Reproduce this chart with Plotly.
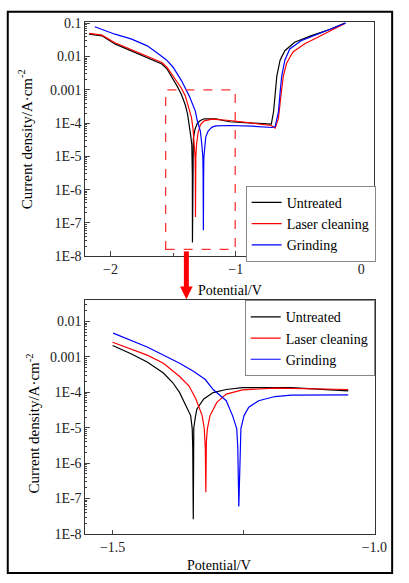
import plotly.graph_objects as go

# ---------------- data ----------------
untreated_x = [-2.17, -2.12, -2.068, -1.965, -1.836, -1.706, -1.59, -1.55, -1.5, -1.465, -1.434, -1.403,
               -1.385, -1.372, -1.36, -1.351, -1.348, -1.347, -1.346, -1.345, -1.342, -1.339,
               -1.326, -1.308, -1.283, -1.252, -1.159, -1.05, -0.867, -0.717, -0.699, -0.686,
               -0.673, -0.647, -0.609, -0.531, -0.402, -0.247, -0.13]
untreated_y = [0.047, 0.044, 0.042, 0.024, 0.015, 0.0093, 0.006, 0.0043, 2.1e-3, 1.23e-3, 7.2e-4, 3.5e-4,
               1.86e-4, 9.8e-5, 4.2e-5, 2.2e-5, 9.5e-6, 2.7e-6, 2.6e-8, 1.0e-5, 2.0e-5, 3.4e-5,
               6.5e-5, 9.8e-5, 1.2e-4, 1.35e-4, 1.35e-4, 1.1e-4, 1.0e-4, 9.3e-5, 2.2e-4, 8.3e-4,
               2.6e-3, 7.8e-3, 0.015, 0.027, 0.042, 0.066, 0.102]

laser_x = [-2.17, -2.12, -2.068, -1.965, -1.836, -1.706, -1.59, -1.55, -1.5, -1.465, -1.434, -1.403,
           -1.372, -1.354, -1.341, -1.329, -1.325, -1.323, -1.322, -1.321, -1.319, -1.314,
           -1.301, -1.283, -1.252, -1.19, -1.098, -1.05, -0.867, -0.72, -0.686, -0.66,
           -0.64, -0.621, -0.595, -0.544, -0.453, -0.324, -0.169, -0.13]
laser_y = [0.050, 0.047, 0.044, 0.026, 0.016, 0.010, 0.0066, 0.0048, 2.6e-3, 1.7e-3, 1.12e-3, 6.6e-4,
           2.8e-4, 1.5e-4, 6.5e-5, 2.2e-5, 9.5e-6, 2.7e-6, 1.5e-7, 4.0e-6, 9.5e-6, 2.2e-5,
           5.2e-5, 8.9e-5, 1.17e-4, 1.32e-4, 1.26e-4, 1.2e-4, 1.0e-4, 8.5e-5, 7.1e-5, 1.38e-4,
           6.8e-4, 2.6e-3, 6.3e-3, 0.0138, 0.024, 0.042, 0.081, 0.098]

grinding_x = [-2.125, -1.965, -1.836, -1.706, -1.603, -1.551, -1.499, -1.434, -1.372, -1.345,
              -1.323, -1.308, -1.283, -1.271, -1.263, -1.261, -1.259, -1.257, -1.255, -1.249,
              -1.24, -1.221, -1.19, -1.159, -1.05, -0.867, -0.712, -0.686, -0.66, -0.647,
              -0.634, -0.609, -0.57, -0.479, -0.35, -0.122]
grinding_y = [0.079, 0.047, 0.034, 0.021, 0.011, 7.8e-3, 4.7e-3, 1.9e-3, 6.6e-4, 3.9e-4,
              2.3e-4, 1.2e-4, 5.8e-5, 2.2e-5, 9.5e-6, 2.8e-6, 6.0e-8, 2.5e-6, 9.5e-6, 2.2e-5,
              3.8e-5, 5.8e-5, 7.6e-5, 8.3e-5, 8.5e-5, 8.1e-5, 7.4e-5, 7.9e-5, 2.2e-4, 8.3e-4,
              2.6e-3, 7.8e-3, 0.017, 0.030, 0.047, 0.102]

series_names = ["Untreated", "Laser cleaning", "Grinding"]
series_colors = ["black", "red", "blue"]

ytick_vals = [1e-8, 1e-7, 1e-6, 1e-5, 1e-4, 1e-3, 1e-2, 1e-1]
ytick_text = ["1E-8", "1E-7", "1E-6", "1E-5", "1E-4", "0.001", "0.01", "0.1"]
top_xtick_vals = [-2, -1, 0]
top_xtick_text = ["\u22122", "\u22121", "0"]
bot_xtick_vals = [-1.5, -1.0]
bot_xtick_text = ["\u22121.5", "\u22121.0"]

zoom_lo, zoom_hi = -1.501, -1.049

# ---------------- figure ----------------
W, H = 409, 583
FONT = "Liberation Serif"
fig = go.Figure()

data = [(untreated_x, untreated_y), (laser_x, laser_y), (grinding_x, grinding_y)]
for (xs, ys), name, col in zip(data, series_names, series_colors):
    fig.add_trace(go.Scatter(x=xs, y=ys, mode="lines", name=name,
                             line=dict(color=col, width=1.2), xaxis="x", yaxis="y",
                             legend="legend"))
for (xs, ys), name, col in zip(data, series_names, series_colors):
    sx = [a for a in xs if zoom_lo <= a <= zoom_hi]
    sy = [b for a, b in zip(xs, ys) if zoom_lo <= a <= zoom_hi]
    fig.add_trace(go.Scatter(x=sx, y=sy, mode="lines", name=name,
                             line=dict(color=col, width=1.2), xaxis="x2", yaxis="y2",
                             legend="legend2"))

minor_y = [m * 10 ** e for e in range(-8, 0) for m in range(2, 10)]

def px_x(p):
    return p / W

def px_y(p):
    return 1 - p / H

axis_common = dict(showline=True, mirror=True, linecolor="#333", linewidth=1,
                   ticks="inside", showgrid=False, zeroline=False,
                   tickfont=dict(family=FONT, size=14, color="#222"))

fig.update_layout(
    width=W, height=H,
    margin=dict(l=0, r=0, t=0, b=0),
    paper_bgcolor="white", plot_bgcolor="white",
    font=dict(family=FONT, size=14, color="black"),
    xaxis=dict(domain=[px_x(88), px_x(385)], anchor="y", range=[-2.2, 0.1],
               tickvals=top_xtick_vals, ticktext=top_xtick_text, ticklen=5,
               minor=dict(tickvals=[-1.5, -0.5], ticks="inside", ticklen=3),
               **axis_common),
    yaxis=dict(domain=[px_y(257), px_y(17)], anchor="x", type="log", range=[-8, -0.95],
               tickvals=ytick_vals, ticktext=ytick_text, ticklen=5,
               minor=dict(tickvals=minor_y, ticks="inside", ticklen=2),
               **axis_common),
    xaxis2=dict(domain=[px_x(88), px_x(386)], anchor="y2", range=[-1.552, -0.9995],
                tickvals=bot_xtick_vals, ticktext=bot_xtick_text, ticklen=4,
                minor=dict(tickvals=[-1.25], ticks="inside", ticklen=4),
                **axis_common),
    yaxis2=dict(domain=[px_y(541), px_y(302)], anchor="x2", type="log", range=[-8, -1.4],
                tickvals=ytick_vals, ticktext=ytick_text, ticklen=5,
                minor=dict(tickvals=minor_y, ticks="inside", ticklen=2),
                **axis_common),
    legend=dict(x=px_x(387), y=px_y(185), xanchor="right", yanchor="top",
                bgcolor="white", bordercolor="#888", borderwidth=1,
                font=dict(family=FONT, size=14, color="black"),
                tracegroupgap=0, itemwidth=30),
    legend2=dict(x=px_x(386), y=px_y(302), xanchor="right", yanchor="top",
                 bgcolor="white", bordercolor="#888", borderwidth=1,
                 font=dict(family=FONT, size=14, color="black"),
                 tracegroupgap=0, itemwidth=30),
    showlegend=True,
)

# zoom rectangle on top panel (data coordinates)
fig.add_shape(type="rect", xref="x", yref="y", x0=-1.56, x1=-1.005, y0=1.6e-8, y1=1e-3,
              line=dict(color="#ff3333", width=1.3, dash="dash"), layer="above")

# red arrow between panels
fig.add_shape(type="line", xref="paper", yref="paper",
              x0=px_x(192), x1=px_x(192), y0=px_y(252), y1=px_y(290),
              line=dict(color="red", width=5))
fig.add_shape(type="path", xref="paper", yref="paper",
              path=f"M {px_x(185.5)} {px_y(288)} L {px_x(198.5)} {px_y(288)} L {px_x(192)} {px_y(301)} Z",
              fillcolor="red", line=dict(color="red", width=0))

# outer border
fig.add_shape(type="rect", xref="paper", yref="paper",
              x0=px_x(8), x1=px_x(404), y0=px_y(581), y1=px_y(7),
              line=dict(color="black", width=2))

# axis titles as annotations
ytitle = "Current density/A\u00b7cm<sup>-2</sup>"
fig.add_annotation(text=ytitle, xref="paper", yref="paper", x=px_x(26), y=px_y(137),
                   textangle=-90, showarrow=False, font=dict(family=FONT, size=15, color="black"),
                   xanchor="center", yanchor="middle")
fig.add_annotation(text=ytitle, xref="paper", yref="paper", x=px_x(34), y=px_y(428),
                   textangle=-90, showarrow=False, font=dict(family=FONT, size=15, color="black"),
                   xanchor="center", yanchor="middle")
fig.add_annotation(text="Potential/V", xref="paper", yref="paper", x=px_x(237), y=px_y(292),
                   showarrow=False, font=dict(family=FONT, size=14, color="black"),
                   xanchor="center", yanchor="middle")
fig.add_annotation(text="Potential/V", xref="paper", yref="paper", x=px_x(226), y=px_y(573),
                   showarrow=False, font=dict(family=FONT, size=14, color="black"),
                   xanchor="center", yanchor="middle")

fig.write_html("out.html")
